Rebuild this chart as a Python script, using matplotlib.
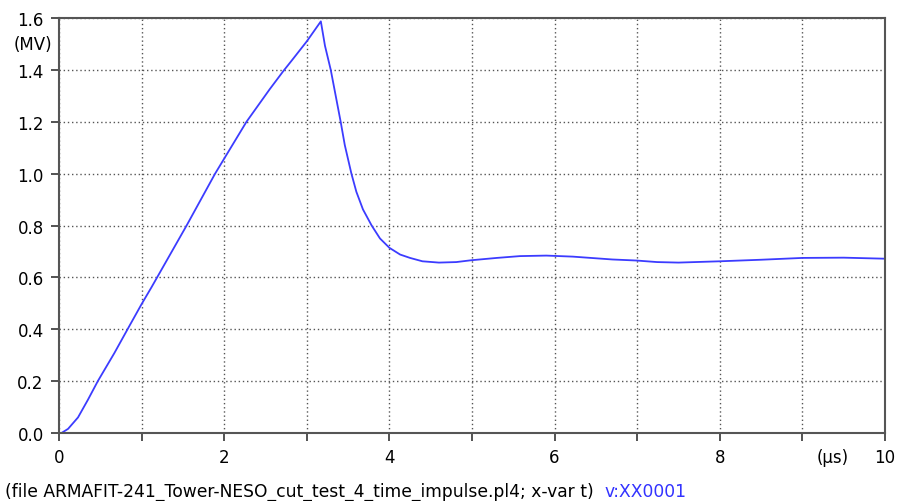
import matplotlib
matplotlib.use("Agg")
from matplotlib import pyplot as plt

# time (us) and voltage (MV)
t = [0, 0.03, 0.11, 0.23, 0.35, 0.47, 0.67, 0.83, 1.0, 1.12, 1.545, 1.89,
     2.27, 2.55, 2.715, 2.82, 3.0, 3.17, 3.22, 3.29, 3.41, 3.46, 3.54, 3.60,
     3.68, 3.785, 3.886, 4.0, 4.13, 4.25, 4.4, 4.6, 4.81, 4.99, 5.3, 5.58,
     5.9, 6.22, 6.7, 6.99, 7.24, 7.5, 8.0, 8.5, 9.0, 9.5, 10.0]
v = [0, 0.0, 0.016, 0.06, 0.128, 0.2, 0.308, 0.4, 0.497, 0.562, 0.8, 1.0,
     1.2, 1.325, 1.395, 1.437, 1.51, 1.587, 1.493, 1.4, 1.2, 1.11, 1.0, 0.93,
     0.862, 0.8, 0.75, 0.714, 0.688, 0.675, 0.662, 0.657, 0.659, 0.666, 0.675, 0.682,
     0.684, 0.68, 0.669, 0.665, 0.659, 0.657, 0.662, 0.668, 0.675, 0.676, 0.672]

x_ticks = list(range(0, 11))
x_labels = ["0", "", "2", "", "4", "", "6", "", "8", "", "10"]
y_ticks = [0.0, 0.2, 0.4, 0.6, 0.8, 1.0, 1.2, 1.4, 1.6]
y_labels = ["0.0", "0.2", "0.4", "0.6", "0.8", "1.0", "1.2", "1.4", "1.6"]

fig = plt.figure(figsize=(8.97, 5.02), dpi=100)
ax = fig.add_axes([59 / 897, 1 - 434 / 502, (885 - 59) / 897, (434 - 19) / 502])

ax.plot(t, v, color="#3c3cff", lw=1.3)

ax.set_xlim(0, 10)
ax.set_ylim(0, 1.6)
ax.set_xticks(x_ticks)
ax.set_xticklabels(x_labels)
ax.set_yticks(y_ticks)
ax.set_yticklabels(y_labels)
ax.tick_params(direction="out", length=6, width=1.3, color="#444444",
               labelsize=12, pad=5)
ax.grid(True, linestyle=(0, (1, 2)), color="#555555", lw=1)

for s in ax.spines.values():
    s.set_color("#555555")
    s.set_linewidth(1.5)

# unit labels
ax.text(-0.085, 1.5, "(MV)", ha="right", va="center", fontsize=12,
        clip_on=False)
ax.text(9.37, -0.0925, "(\u00b5s)", ha="center", va="center", fontsize=12,
        clip_on=False)

fig.text(5 / 897, 1 - 492 / 502,
         "(file ARMAFIT-241_Tower-NESO_cut_test_4_time_impulse.pl4; x-var t)",
         ha="left", va="center", fontsize=12.3)
fig.text(604 / 897, 1 - 492 / 502, "v:XX0001", ha="left", va="center",
         fontsize=12.3, color="#3333ff")

fig.savefig("out.png", dpi=100)
